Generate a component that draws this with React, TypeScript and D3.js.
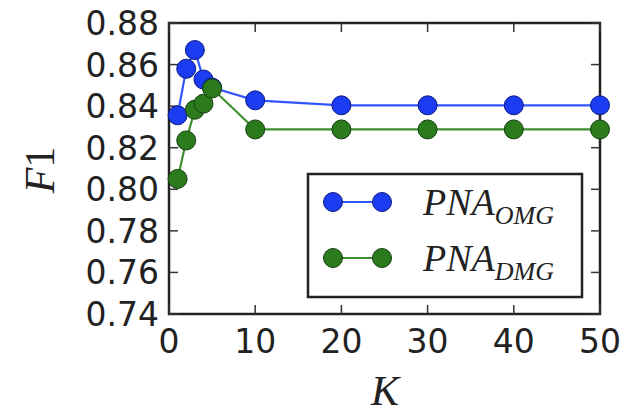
import React, { useEffect, useRef } from 'react';
import * as d3 from 'd3';

const kValues = [1, 2, 3, 4, 5, 10, 20, 30, 40, 50];
const omgF1 = [0.8356, 0.858, 0.867, 0.8528, 0.849, 0.8428, 0.8404, 0.8404, 0.8404, 0.8404];
const dmgF1 = [0.805, 0.8235, 0.8383, 0.8412, 0.8485, 0.8288, 0.8288, 0.8288, 0.8288, 0.8288];
const xTicks = [0, 10, 20, 30, 40, 50];
const yTicks = [0.74, 0.76, 0.78, 0.8, 0.82, 0.84, 0.86, 0.88];

const series = [
  { name: 'OMG', values: omgF1, fill: '#1c3cf2', line: '#3355ff', edge: '#0a1a80' },
  { name: 'DMG', values: dmgF1, fill: '#2b7a1c', line: '#3f8f30', edge: '#144010' },
];

const App = () => {
  const svgRef = useRef<SVGSVGElement>(null);

  useEffect(() => {
    const svg = d3.select(svgRef.current);
    svg.selectAll('*').remove();

    const left = 169, right = 600, top = 23, bottom = 314;
    const x = d3.scaleLinear().domain([0, 50]).range([left, right]);
    const y = d3.scaleLinear().domain([0.74, 0.88]).range([bottom, top]);
    const tickLen = 9;

    // frame
    svg.append('rect')
      .attr('x', left).attr('y', top)
      .attr('width', right - left).attr('height', bottom - top)
      .attr('fill', 'none').attr('stroke', '#222').attr('stroke-width', 2.5);

    // ticks (inward, all four sides)
    xTicks.forEach(t => {
      svg.append('line').attr('x1', x(t)).attr('x2', x(t)).attr('y1', bottom).attr('y2', bottom - tickLen)
        .attr('stroke', '#333').attr('stroke-width', 1.5);
      svg.append('line').attr('x1', x(t)).attr('x2', x(t)).attr('y1', top).attr('y2', top + tickLen)
        .attr('stroke', '#333').attr('stroke-width', 1.5);
      svg.append('text').attr('x', x(t)).attr('y', 353)
        .attr('text-anchor', 'middle')
        .attr('font-family', 'DejaVu Sans').attr('font-size', 33).attr('fill', '#222')
        .text(t);
    });
    yTicks.forEach(t => {
      svg.append('line').attr('x1', left).attr('x2', left + tickLen).attr('y1', y(t)).attr('y2', y(t))
        .attr('stroke', '#333').attr('stroke-width', 1.5);
      svg.append('line').attr('x1', right).attr('x2', right - tickLen).attr('y1', y(t)).attr('y2', y(t))
        .attr('stroke', '#333').attr('stroke-width', 1.5);
      svg.append('text').attr('x', left - 10).attr('y', y(t) + 12)
        .attr('text-anchor', 'end')
        .attr('font-family', 'DejaVu Sans').attr('font-size', 33).attr('fill', '#222')
        .text(t.toFixed(2));
    });

    // series
    const line = d3.line<number>().x((d, i) => x(kValues[i])).y(d => y(d));
    series.forEach(s => {
      svg.append('path').datum(s.values)
        .attr('d', line)
        .attr('fill', 'none').attr('stroke', s.line).attr('stroke-width', 2.2);
      svg.selectAll(null).data(s.values).enter().append('circle')
        .attr('cx', (d, i) => x(kValues[i])).attr('cy', d => y(d))
        .attr('r', 9.5)
        .attr('fill', s.fill).attr('stroke', s.edge).attr('stroke-width', 1);
    });

    // legend
    svg.append('rect')
      .attr('x', 308).attr('y', 174).attr('width', 274).attr('height', 123)
      .attr('fill', '#fff').attr('stroke', '#222').attr('stroke-width', 2.5);
    series.forEach((s, i) => {
      const ly = 202 + i * 56;
      svg.append('line').attr('x1', 333).attr('x2', 382).attr('y1', ly).attr('y2', ly)
        .attr('stroke', s.line).attr('stroke-width', 2.2);
      [333, 382].forEach(cx => {
        svg.append('circle').attr('cx', cx).attr('cy', ly).attr('r', 9.5)
          .attr('fill', s.fill).attr('stroke', s.edge).attr('stroke-width', 1);
      });
      const txt = svg.append('text').attr('x', 423).attr('y', ly + 13)
        .attr('font-family', 'Liberation Serif').attr('font-style', 'italic')
        .attr('font-size', 38).attr('fill', '#222');
      txt.append('tspan').text('PNA');
      txt.append('tspan').attr('dy', 9).attr('font-size', 26).text(s.name);
    });

    // axis labels
    svg.append('text').attr('x', 385).attr('y', 405)
      .attr('text-anchor', 'middle')
      .attr('font-family', 'Liberation Serif').attr('font-style', 'italic')
      .attr('font-size', 42).attr('fill', '#222')
      .text('K');
    const yl = svg.append('text')
      .attr('transform', 'translate(54,170) rotate(-90)')
      .attr('text-anchor', 'middle')
      .attr('font-family', 'Liberation Serif').attr('font-size', 42).attr('fill', '#222');
    yl.append('tspan').attr('font-style', 'italic').text('F');
    yl.append('tspan').text('1');
  }, []);

  return (
    <svg ref={svgRef} width={627} height={417}
      style={{ position: 'absolute', left: 0, top: 0, background: '#fff' }} />
  );
};

export default App;
